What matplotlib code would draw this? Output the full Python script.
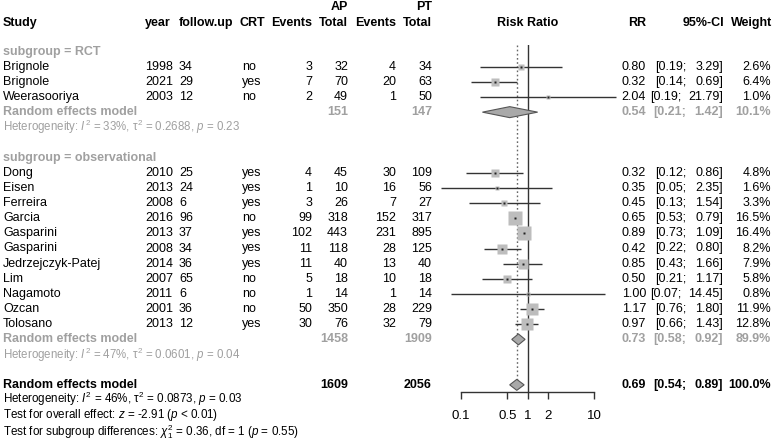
import numpy as np
import matplotlib
matplotlib.use('Agg')
import matplotlib.pyplot as plt
from matplotlib.patches import Polygon

plt.rcParams['font.family'] = ['Liberation Sans', 'DejaVu Sans']
plt.rcParams['mathtext.fontset'] = 'custom'
plt.rcParams['mathtext.rm'] = 'Liberation Sans'
plt.rcParams['mathtext.it'] = 'Liberation Sans:italic'
plt.rcParams['mathtext.bf'] = 'Liberation Sans:bold'

# study level data
studies = ['Brignole', 'Brignole', 'Weerasooriya',
           'Dong', 'Eisen', 'Ferreira', 'Garcia', 'Gasparini', 'Gasparini',
           'Jedrzejczyk-Patej', 'Lim', 'Nagamoto', 'Ozcan', 'Tolosano']
years = [1998, 2021, 2003, 2010, 2013, 2008, 2016, 2013, 2008, 2014, 2007, 2011, 2001, 2013]
follow_up = [34, 29, 12, 25, 24, 6, 96, 37, 34, 36, 65, 6, 36, 12]
crt = ['no', 'yes', 'no', 'yes', 'yes', 'yes', 'no', 'yes', 'yes', 'yes', 'no', 'no', 'no', 'yes']
ap_events = [3, 7, 2, 4, 1, 3, 99, 102, 11, 11, 5, 1, 50, 30]
ap_total = [32, 70, 49, 45, 10, 26, 318, 443, 118, 40, 18, 14, 350, 76]
pt_events = [4, 20, 1, 30, 16, 7, 152, 231, 28, 13, 10, 1, 28, 32]
pt_total = [34, 63, 50, 109, 56, 27, 317, 895, 125, 40, 18, 14, 229, 79]
rr = [0.80, 0.32, 2.04, 0.32, 0.35, 0.45, 0.65, 0.89, 0.42, 0.85, 0.50, 1.00, 1.17, 0.97]
ci_lo = [0.19, 0.14, 0.19, 0.12, 0.05, 0.13, 0.53, 0.73, 0.22, 0.43, 0.21, 0.07, 0.76, 0.66]
ci_hi = [3.29, 0.69, 21.79, 0.86, 2.35, 1.54, 0.79, 1.09, 0.80, 1.66, 1.17, 14.45, 1.80, 1.43]
weight = [2.6, 6.4, 1.0, 4.8, 1.6, 3.3, 16.5, 16.4, 8.2, 7.9, 5.8, 0.8, 11.9, 12.8]
n_per_group = [3, 11]

# subgroup summaries
sub_names = ['RCT', 'observational']
sub_rr = [0.54, 0.73]
sub_lo = [0.21, 0.58]
sub_hi = [1.42, 0.92]
sub_w = [10.1, 89.9]
sub_ap = [151, 1458]
sub_pt = [147, 1909]
sub_i2 = [33, 47]
sub_tau2 = ['0.2688', '0.0601']
sub_p = ['0.23', '0.04']

# overall
tot_rr, tot_lo, tot_hi, tot_w = 0.69, 0.54, 0.89, 100.0
tot_ap, tot_pt = 1609, 2056
tot_i2, tot_tau2, tot_p = 46, '0.0873', '0.03'
z_val, z_p = '-2.91', '< 0.01'
chi2, chi_df, chi_p = '0.36', 1, '0.55'

GREY = '#a0a0a0'
FS = 9.0

W, H = 776, 442
fig = plt.figure(figsize=(W / 100, H / 100), dpi=100)
ax = fig.add_axes([0, 0, 1, 1])
ax.set_xlim(0, W)
ax.set_ylim(H, 0)
ax.axis('off')

# forest panel, y in same pixel units
x0, x1 = 461, 594
ytop, yaxis = 45, 392
axf = fig.add_axes([x0 / W, (H - yaxis) / H, (x1 - x0) / W, (yaxis - ytop) / H])
axf.set_xscale('log')
axf.set_xlim(0.1, 10)
axf.set_ylim(yaxis, ytop)
axf.patch.set_alpha(0)
for s in ['top', 'left', 'right']:
    axf.spines[s].set_visible(False)
axf.spines['bottom'].set_color('#333333')
axf.spines['bottom'].set_linewidth(1.0)
axf.set_yticks([])
axf.set_xticks([0.1, 0.5, 1, 2, 10])
axf.set_xticklabels(['0.1', '0.5', '1', '2', '10'], fontsize=9.5)
axf.xaxis.set_minor_locator(matplotlib.ticker.NullLocator())
axf.tick_params(axis='x', length=5, width=1.0, color='#333333', pad=8)


def row_y(i):
    return 66.7 + 15.15 * i


def txt(x, y, s, ha='left', color='black', bold=False, size=FS):
    ax.text(x, y, s, ha=ha, va='center', color=color, fontsize=size,
            fontweight='bold' if bold else 'normal')


def ci_text(y, r, lo, hi, w, color='black', bold=False):
    txt(646, y, f'{r:.2f}', ha='right', color=color, bold=bold)
    shift = 5 if hi >= 10 else 0
    txt(686 - shift, y, f'[{lo:.2f};', ha='right', color=color, bold=bold)
    txt(723, y, f'{hi:.2f}]', ha='right', color=color, bold=bold)
    txt(771, y, f'{w:.1f}%', ha='right', color=color, bold=bold)


def diamond(y, r, lo, hi):
    h = 5.5
    poly = Polygon([[lo, y], [r, y - h], [hi, y], [r, y + h]], closed=True,
                   facecolor='#a9a9a9', edgecolor='#555555', lw=0.8, zorder=4,
                   clip_on=False)
    axf.add_patch(poly)


# header
txt(348, 7, 'AP', ha='right', bold=True)
txt(432, 7, 'PT', ha='right', bold=True)
hy = 23
txt(3, hy, 'Study', bold=True)
txt(145, hy, 'year', bold=True)
txt(179, hy, 'follow.up', bold=True)
txt(240, hy, 'CRT', bold=True)
txt(312, hy, 'Events', ha='right', bold=True)
txt(348, hy, 'Total', ha='right', bold=True)
txt(396, hy, 'Events', ha='right', bold=True)
txt(432, hy, 'Total', ha='right', bold=True)
txt(527.5, hy, 'Risk Ratio', ha='center', bold=True)
txt(646, hy, 'RR', ha='right', bold=True)
txt(724, hy, '95%-CI', ha='right', bold=True)
txt(772, hy, 'Weight', ha='right', bold=True)

# reference lines
axf.axvline(1, color='#333333', lw=1.0, zorder=2)
axf.vlines(tot_rr, ytop, row_y(21) - 5, color='#666666', lw=1.0,
           linestyles=(0, (1.2, 1.8)), zorder=2)

row = -1
k = 0
for g in range(2):
    txt(3, row_y(row), f'subgroup = {sub_names[g]}', color=GREY, bold=True)
    for j in range(n_per_group[g]):
        row += 1
        y = row_y(row)
        txt(3, y, studies[k])
        txt(145, y, str(years[k]))
        txt(179, y, str(follow_up[k]))
        txt(242, y, crt[k])
        txt(312, y, str(ap_events[k]), ha='right')
        txt(348, y, str(ap_total[k]), ha='right')
        txt(396, y, str(pt_events[k]), ha='right')
        txt(432, y, str(pt_total[k]), ha='right')
        ci_text(y, rr[k], ci_lo[k], ci_hi[k], weight[k])
        axf.hlines(y, ci_lo[k], ci_hi[k], color='#333333', lw=1.0, zorder=3,
                   clip_on=False)
        side = 3.4 * np.sqrt(weight[k]) * 0.72
        axf.plot(rr[k], y, marker='s', ms=side, color='#bdbdbd', mec='none',
                 zorder=3.5, clip_on=False)
        axf.plot(rr[k], y, marker='s', ms=1.8, color='#222222', mec='none',
                 zorder=4, clip_on=False)
        k += 1
    row += 1
    y = row_y(row)
    txt(3, y, 'Random effects model', color=GREY, bold=True)
    txt(348, y, str(sub_ap[g]), ha='right', color=GREY, bold=True)
    txt(432, y, str(sub_pt[g]), ha='right', color=GREY, bold=True)
    ci_text(y, sub_rr[g], sub_lo[g], sub_hi[g], sub_w[g], color=GREY, bold=True)
    diamond(y, sub_rr[g], sub_lo[g], sub_hi[g])
    row += 1
    txt(3, row_y(row),
        f'Heterogeneity: $I^2$ = {sub_i2[g]}%, τ$^2$ = {sub_tau2[g]}, $p$ = {sub_p[g]}',
        color=GREY, size=8.3)
    row += 2

# overall
row = 21
y = row_y(row)
txt(3, y, 'Random effects model', bold=True)
txt(348, y, str(tot_ap), ha='right', bold=True)
txt(432, y, str(tot_pt), ha='right', bold=True)
ci_text(y, tot_rr, tot_lo, tot_hi, tot_w, bold=True)
diamond(y, tot_rr, tot_lo, tot_hi)
txt(3, row_y(22) - 1.5,
    f'Heterogeneity: $I^2$ = {tot_i2}%, τ$^2$ = {tot_tau2}, $p$ = {tot_p}', size=8.4)
txt(3, row_y(23), f'Test for overall effect: $z$ = {z_val} ($p$ {z_p})', size=8.4)
txt(3, row_y(24) + 1,
    f'Test for subgroup differences: $\\chi^2_{chi_df}$ = {chi2}, df = {chi_df} ($p$ = {chi_p})',
    size=8.4)

fig.savefig('out.png', dpi=100)
